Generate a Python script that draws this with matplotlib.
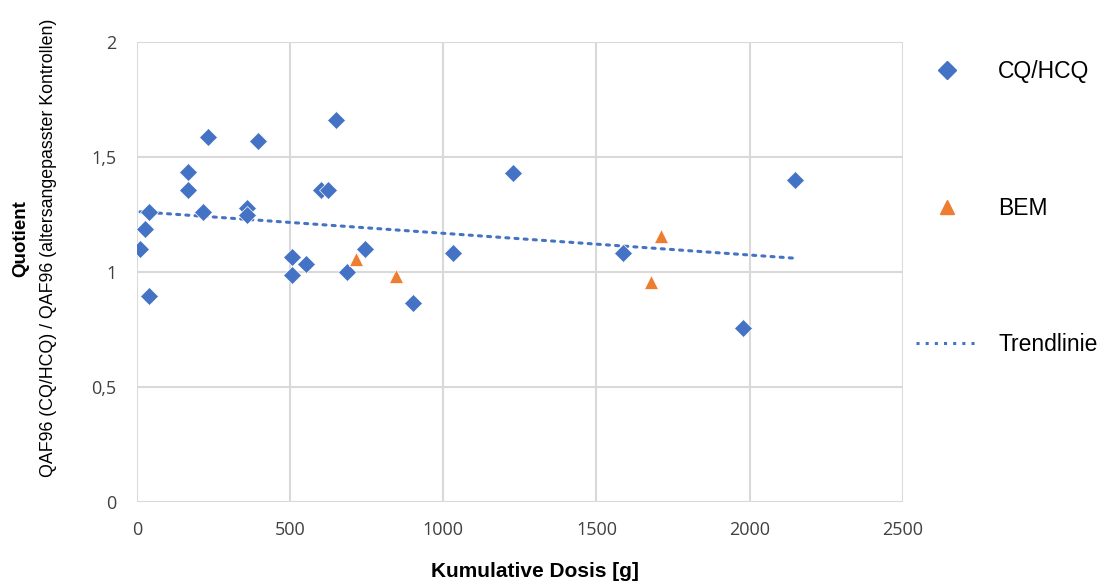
import matplotlib
matplotlib.use("Agg")
import matplotlib.pyplot as plt
from matplotlib.lines import Line2D

cq_x = [10, 26, 39, 39, 166, 166, 215, 232, 359, 359, 395, 506, 506, 552,
        600, 623, 649, 685, 744, 901, 1031, 1227, 1586, 1978, 2148]
cq_y = [1.10, 1.187, 1.26, 0.896, 1.435, 1.357, 1.26, 1.587, 1.278, 1.248, 1.57,
        1.065, 0.987, 1.035, 1.357, 1.357, 1.661, 1.0, 1.10, 0.865, 1.083, 1.43,
        1.083, 0.757, 1.40]
bem_x = [715, 847, 1678, 1710]
bem_y = [1.057, 0.984, 0.957, 1.157]
trend_x = [10, 2148]
trend_y = [1.262, 1.060]

x_ticks = [0, 500, 1000, 1500, 2000, 2500]
y_ticks = [0, 0.5, 1, 1.5, 2]
y_tick_labels = ["0", "0,5", "1", "1,5", "2"]

blue = "#4472C4"
orange = "#ED7D31"
sans = ["Liberation Sans", "DejaVu Sans"]

fig = plt.figure(figsize=(11.05, 5.85), dpi=100)
ax = fig.add_axes([0.124, 0.142, 0.693, 0.786])

ax.plot(trend_x, trend_y, color=blue, linestyle=(0, (1, 2)), linewidth=2.2,
        dash_capstyle="round", zorder=2)
ax.plot(cq_x, cq_y, linestyle="none", marker="D", markersize=9, color=blue,
        markeredgecolor="white", markeredgewidth=0.5, zorder=3)
ax.plot(bem_x, bem_y, linestyle="none", marker="^", markersize=10.5, color=orange,
        markeredgecolor="white", markeredgewidth=0.5, zorder=3)

ax.set_xlim(0, 2500)
ax.set_ylim(0, 2)
ax.set_xticks(x_ticks)
ax.set_xticklabels([str(t) for t in x_ticks], family="Open Sans")
ax.set_yticks(y_ticks)
ax.set_yticklabels(y_tick_labels, family="Open Sans")
ax.grid(True, color="#D9D9D9", linewidth=1.5)
ax.set_axisbelow(True)
for s in ax.spines.values():
    s.set_visible(False)
ax.tick_params(length=0, labelsize=13, colors="#404040")
ax.tick_params(axis="y", pad=15)
ax.tick_params(axis="x", pad=14)

fig.text(0.484, 0.006, "Kumulative Dosis [g]", ha="center", va="bottom",
         fontsize=15, fontweight="bold", family=sans)
fig.text(0.019, 0.593, "Quotient", rotation=90, ha="center", va="center",
         fontsize=13.5, fontweight="bold", family=sans)
fig.text(0.044, 0.577, "QAF96 (CQ/HCQ) / QAF96 (altersangepasster Kontrollen)",
         rotation=90, ha="center", va="center", fontsize=12.8, family=sans)

handles = [
    Line2D([], [], linestyle="none", marker="D", markersize=9, color=blue),
    Line2D([], [], linestyle="none", marker="^", markersize=10.5, color=orange),
    Line2D([], [], color=blue, linestyle=(0, (1, 2)), linewidth=2.2),
]
fig.legend(handles, ["CQ/HCQ", "BEM", "Trendlinie"], loc="upper left",
           bbox_to_anchor=(0.810, 0.932), frameon=False,
           prop={"family": sans, "size": 16.5},
           labelspacing=4.95, handlelength=2.75, handletextpad=0.85)

fig.savefig("out.png", dpi=100)
